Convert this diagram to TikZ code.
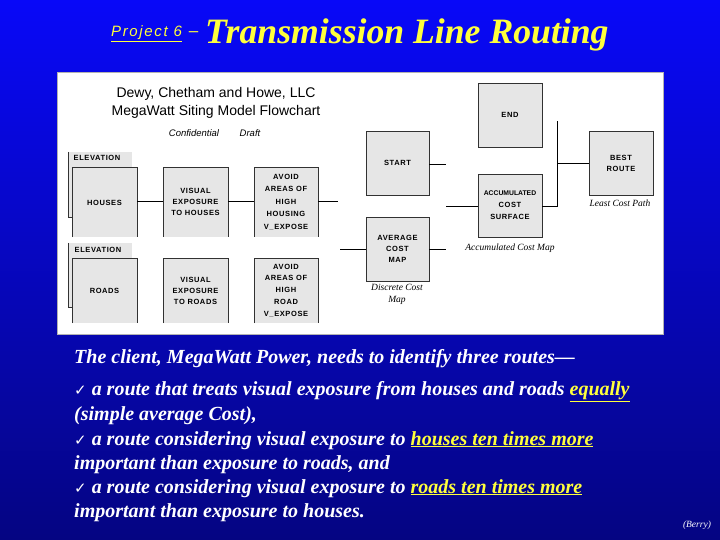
\documentclass[tikz,border=0pt]{standalone}
\usepackage{fontspec}
\setmainfont{Liberation Serif}
\setsansfont{Liberation Sans}
\newfontfamily\boxfont[LetterSpace=8]{Liberation Sans}
\newfontfamily\boxfontnarrow{Liberation Sans}
\newfontfamily\dejavu{DejaVu Sans}
\newfontfamily\projfont[LetterSpace=11]{Liberation Sans Italic}
\definecolor{bgtop}{RGB}{8,8,248}
\definecolor{bgbot}{RGB}{5,5,130}
\definecolor{ttlyellow}{RGB}{255,255,60}
\definecolor{boxgray}{RGB}{230,230,230}
\definecolor{edgecol}{RGB}{50,50,50}
\tikzset{
  boxtext/.style={font=\boxfont\bfseries\fontsize{7.5}{11}\selectfont, align=center, inner sep=0pt},
  rowbox/.style={boxtext, fill=boxgray, minimum width=65pt, minimum height=69pt},
  fullbox/.style={boxtext, fill=boxgray, draw=edgecol, line width=0.6pt, minimum width=63pt, minimum height=64pt},
  edgeline/.style={draw=edgecol, line width=0.6pt},
  conn/.style={draw=black, line width=0.7pt},
  caption/.style={font=\itshape\fontsize{9.5}{12}\selectfont, align=center, inner sep=0pt, text=black},
  bodyline/.style={font=\bfseries\itshape\fontsize{20}{24}\selectfont, text=white, anchor=base west, inner sep=0pt},
}
\newcommand{\chk}{{\dejavu\mdseries\upshape\fontsize{15}{15}\selectfont ✓}}
\begin{document}
\begin{tikzpicture}[x=1pt,y=-1pt]
\useasboundingbox (0,0) rectangle (720,540);
\shade[top color=bgtop, bottom color=bgbot] (0,0) rectangle (720,540);

% title
\node[anchor=base west, inner sep=0pt, text=ttlyellow, font=\projfont\fontsize{15}{16}\selectfont] (proj) at (111,37) {\underline{Project 6}\hspace{7pt}{\sffamily\upshape\fontsize{17}{17}\selectfont\textendash}};
\node[anchor=base west, inner sep=0pt, text=ttlyellow, font=\bfseries\itshape\fontsize{35.7}{40}\selectfont] (title) at (205,44) {Transmission Line Routing};

% panel
\draw[draw=gray!60, fill=white] (57,72) rectangle (663,334);

\node[font=\sffamily\fontsize{14}{16}\selectfont, inner sep=0pt] (hdr1) at (216,94) {Dewy, Chetham and Howe, LLC};
\node[font=\sffamily\fontsize{14}{16}\selectfont, inner sep=0pt] (hdr2) at (216,112) {MegaWatt Siting Model Flowchart};
\node[font=\sffamily\itshape\fontsize{9.5}{10}\selectfont, inner sep=0pt] (conf) at (194,133) {Confidential};
\node[font=\sffamily\itshape\fontsize{9.5}{10}\selectfont, inner sep=0pt] (draft) at (250,133) {Draft};

% elevation back boxes
\node[fill=boxgray, minimum width=64pt, minimum height=65pt, inner sep=0pt] (elev1) at (100,184.5) {};
\node[fill=boxgray, minimum width=64pt, minimum height=64pt, inner sep=0pt] (elev2) at (100,275) {};
\node[boxtext] (elevlab1) at (97,158) {ELEVATION};
\node[boxtext] (elevlab2) at (98,250) {ELEVATION};

% row 1
\node[rowbox] (houses) at (104.5,202.5) {HOUSES};
\node[rowbox] (vis1) at (195.5,202) {VISUAL\\EXPOSURE\\TO HOUSES};
\node[rowbox, minimum width=64pt, font=\boxfont\bfseries\fontsize{7.5}{12.5}\selectfont] (avoid1) at (286,202) {AVOID\\AREAS OF\\HIGH\\HOUSING\\V\_EXPOSE};

% row 2
\node[rowbox, minimum height=65pt] (roads) at (104.5,290.5) {ROADS};
\node[rowbox, minimum height=65pt] (vis2) at (195.5,290.5) {VISUAL\\EXPOSURE\\TO ROADS};
\node[rowbox, minimum height=65pt, minimum width=64pt, font=\boxfont\bfseries\fontsize{7.5}{11.7}\selectfont] (avoid2) at (286,290.5) {AVOID\\AREAS OF\\HIGH\\ROAD\\V\_EXPOSE};

% edges of open boxes
\draw[edgeline] (elev1.north west) -- (elev1.south west) -- (houses.west |- elev1.south);
\draw[edgeline] (elev2.north west) -- (elev2.south west) -- (roads.west |- elev2.south);
\foreach \b in {houses,vis1,avoid1,roads,vis2,avoid2}{
  \draw[edgeline] (\b.south west) |- (\b.north east) -- (\b.south east);
}

% middle boxes
\node[fullbox] (start) at (397.5,163) {START};
\node[fullbox] (avg) at (397.5,249) {AVERAGE\\COST\\MAP};
\node[fullbox, minimum width=64pt] (endb) at (510,115) {END};
\node[fullbox, minimum width=64pt, minimum height=63pt, font=\boxfont\bfseries\fontsize{7.5}{12}\selectfont] (accum) at (510,205.5) {{\boxfontnarrow\fontsize{6.8}{12}\selectfont ACCUMULATED}\\COST\\SURFACE};
\node[fullbox, minimum width=64pt] (best) at (621,163) {BEST\\ROUTE};

% captions
\node[caption] (capl) at (620,203) {Least Cost Path};
\node[caption] (capa) at (510,248) {Accumulated Cost Map};
\node[caption] (capd) at (397,294) {Discrete Cost\\Map};

% free ends
\coordinate (r1end) at (338,201);
\coordinate (avgin) at (340,249);
\coordinate (avgout) at (446,249);
\coordinate (startout) at (446,164);
\coordinate (accin) at (446,206);
\coordinate (vtop) at (557,121);
\coordinate (vbot) at (557,206);
\coordinate (vmid) at (557,163);

% connectors
\draw[conn] (houses.east |- 0,201) -- (vis1.west |- 0,201);
\draw[conn] (vis1.east |- 0,201) -- (avoid1.west |- 0,201);
\draw[conn] (avoid1.east |- r1end) -- (r1end);
\draw[conn] (avgin) -- (avg.west);
\draw[conn] (avg.east) -- (avgout);
\draw[conn] (start.east |- startout) -- (startout);
\draw[conn] (accin) -- (accum.west |- accin);
\draw[conn] (accum.east |- vbot) -- (vbot) -- (vtop);
\draw[conn] (vmid) -- (best.west);

% body text
\node[bodyline] (l1) at (74,363) {The client, MegaWatt Power, needs to identify three routes---};
\node[bodyline] (l2) at (74,395) {\chk\ a route that treats visual exposure from houses and roads \textcolor{ttlyellow}{\underline{equally}}};
\node[bodyline] (l3) at (74,420) {(simple average Cost),};
\node[bodyline] (l4) at (74,445) {\chk\ a route considering visual exposure to \textcolor{ttlyellow}{\underline{houses ten times more}}};
\node[bodyline] (l5) at (74,469) {important than exposure to roads, and};
\node[bodyline] (l6) at (74,493) {\chk\ a route considering visual exposure to \textcolor{ttlyellow}{\underline{roads ten times more}}};
\node[bodyline] (l7) at (74,517) {important than exposure to houses.};

\node[font=\itshape\fontsize{9.5}{11}\selectfont, text=white, inner sep=0pt] (berry) at (697,525) {(Berry)};
\end{tikzpicture}
\end{document}
